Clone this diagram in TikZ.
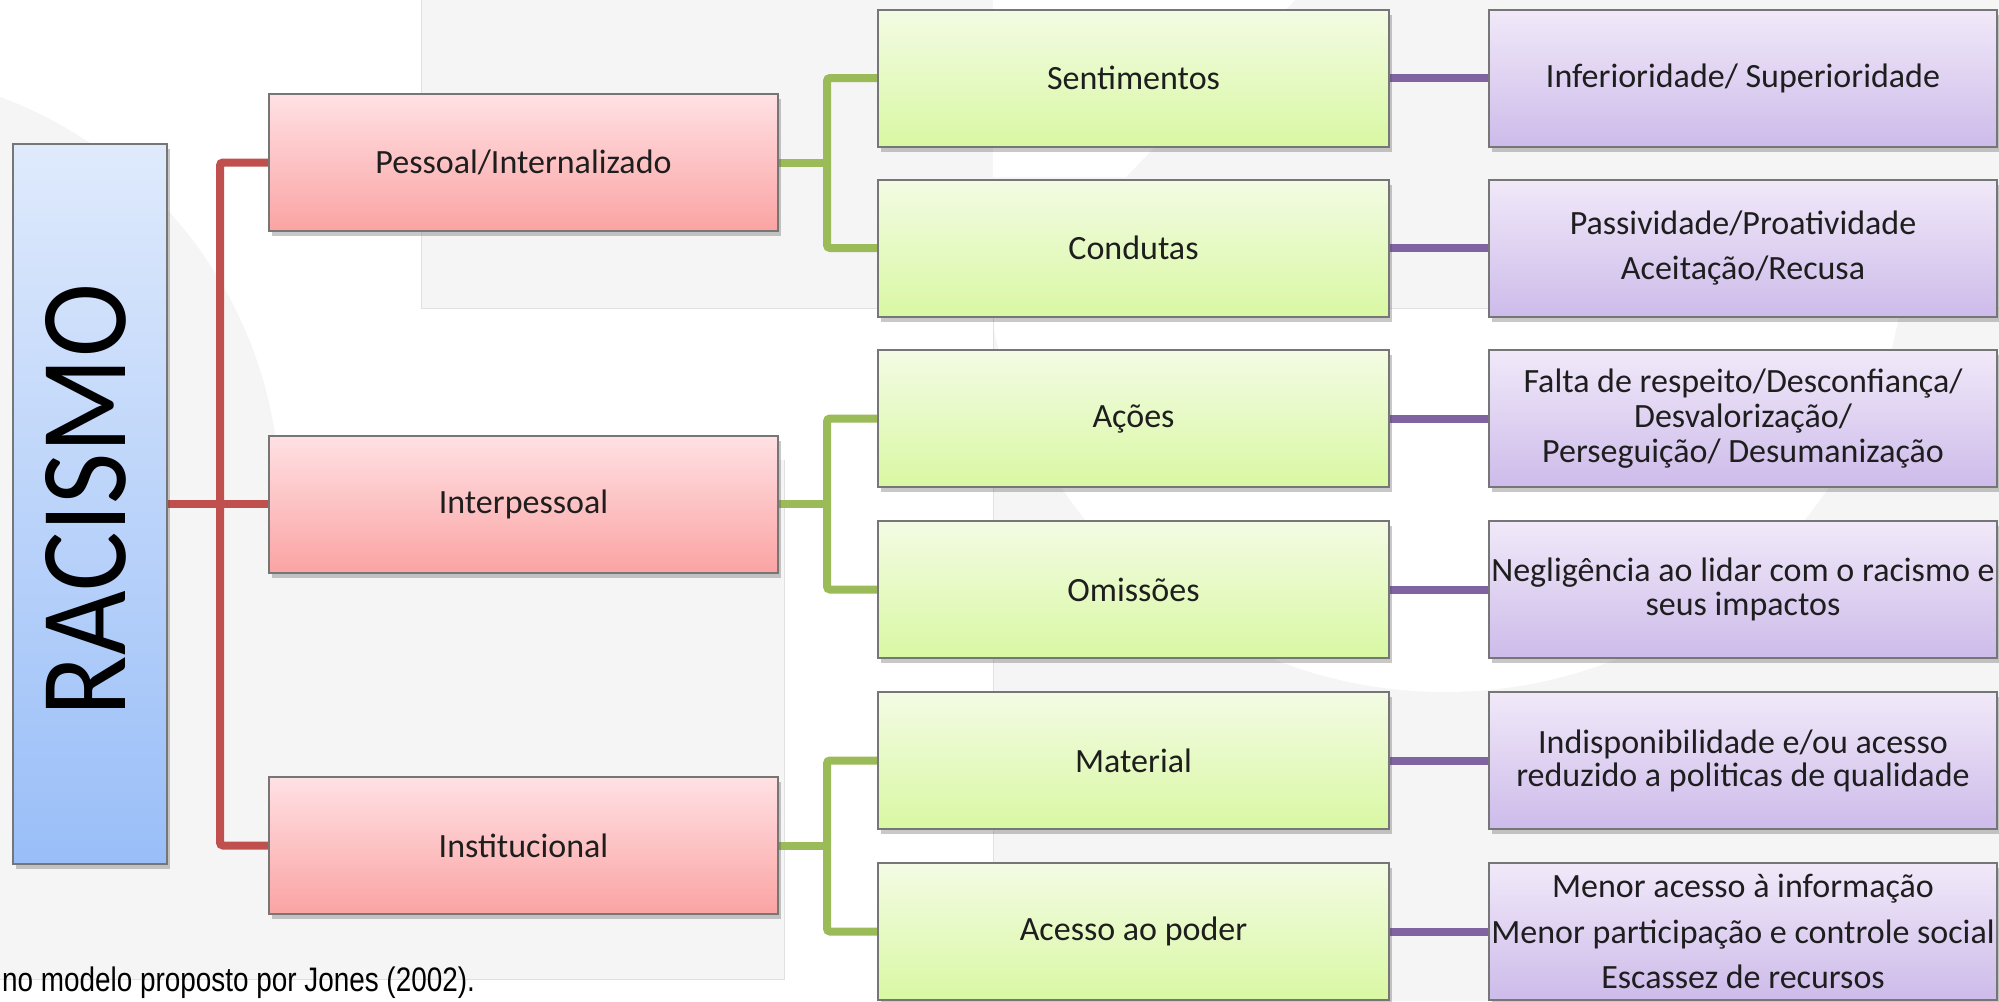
\documentclass[tikz,border=0pt]{standalone}
\usepackage{fontspec}
\setmainfont{Carlito}
\newfontfamily\capfont{Liberation Sans}
\usetikzlibrary{shadows}
\pgfdeclarelayer{bgzero}
\pgfdeclarelayer{bgone}
\pgfsetlayers{bgzero,bgone,main}
\definecolor{bgg}{RGB}{245,245,245}
\definecolor{bgline}{RGB}{225,225,225}
\definecolor{boxborder}{RGB}{118,118,118}
\definecolor{txt}{RGB}{30,30,30}
\definecolor{pinkT}{RGB}{255,225,228}
\definecolor{pinkB}{RGB}{251,163,163}
\definecolor{greenT}{RGB}{243,251,228}
\definecolor{greenB}{RGB}{217,248,163}
\definecolor{purpT}{RGB}{241,233,249}
\definecolor{purpB}{RGB}{205,187,234}
\definecolor{blueT}{RGB}{223,234,252}
\definecolor{blueB}{RGB}{153,190,248}
\definecolor{redl}{RGB}{192,80,77}
\definecolor{greenl}{RGB}{155,187,89}
\definecolor{purpl}{RGB}{128,100,162}
\begin{document}
\begin{tikzpicture}[x=1pt,y=1pt,
  box/.style={draw=boxborder, line width=2pt, minimum height=137pt, inner sep=0pt,
    align=center, text=txt, font=\fontsize{34}{41}\selectfont,
    drop shadow={shadow xshift=3pt, shadow yshift=-5pt, opacity=0.3, fill=black!70}},
  pinkbox/.style={box, minimum width=509pt, top color=pinkT, bottom color=pinkB},
  greenbox/.style={box, minimum width=511pt, top color=greenT, bottom color=greenB},
  purpbox/.style={box, minimum width=508pt, top color=purpT, bottom color=purpB},
  conn/.style={line width=8pt, rounded corners=3pt},
  redconn/.style={conn, draw=redl},
  greenconn/.style={conn, draw=greenl},
  purpconn/.style={conn, draw=purpl}
]
\useasboundingbox (0,0) rectangle (1999,-1001);
\begin{pgfonlayer}{bgzero}
  \begin{scope}
    \clip (0,0) rectangle (1999,-1001);
    \fill[white] (0,0) rectangle (1999,-1001);
    \fill[bgg] (-150,-500) circle (430);
    \fill[bgg] (0,-460) rectangle (784,-979);
    \fill[bgg] (421,0) rectangle (1999,-308);
    \fill[white] (993,0) -- (1295,0) -- (1126,-177) -- (993,-177) -- cycle;
    \fill[bgg] (993,-308) rectangle (1999,-1001);
    \begin{scope}
      \clip (993,-308) rectangle (1999,-1001);
      \fill[white] (1445,-230) circle (462);
    \end{scope}
    \draw[bgline, line width=0.8pt] (421,0) -- (421,-308) -- (1999,-308);
    \draw[bgline, line width=0.8pt] (993,-308) -- (993,-1001);
    \draw[bgline, line width=0.8pt] (784,-460) -- (784,-979) -- (0,-979);
  \end{scope}
\end{pgfonlayer}

% level 0
\node[draw=boxborder, line width=2pt, minimum width=154pt, minimum height=720pt, inner sep=0pt,
  top color=blueT, bottom color=blueB,
  drop shadow={shadow xshift=3pt, shadow yshift=-5pt, opacity=0.3, fill=black!70}]
  (rac) at (90,-504) {};
\node[rotate=90, inner sep=0pt] (ractxt) at (86,-500) {\resizebox{432pt}{80pt}{RACISMO}};

% level 1
\node[pinkbox] (p1) at (523.5,-162.5) {Pessoal/Internalizado};
\node[pinkbox] (p2) at (523.5,-504) {Interpessoal};
\node[pinkbox] (p3) at (523.5,-845.5) {Institucional};

% level 2
\node[greenbox] (g1) at (1133.5,-78) {Sentimentos};
\node[greenbox] (g2) at (1133.5,-248) {Condutas};
\node[greenbox] (g3) at (1133.5,-418.5) {Ações};
\node[greenbox] (g4) at (1133.5,-589.5) {Omissões};
\node[greenbox] (g5) at (1133.5,-760.5) {Material};
\node[greenbox] (g6) at (1133.5,-931.5) {Acesso ao poder};

% level 3
\node[purpbox] (q1) at (1743,-78) {Inferioridade/ Superioridade};
\node[purpbox, font=\fontsize{34}{45}\selectfont] (q2) at (1743,-248) {Passividade/Proatividade\\Aceitação/Recusa};
\node[purpbox, font=\fontsize{34}{35}\selectfont] (q3) at (1743,-418.5) {Falta de respeito/Desconfiança/\\Desvalorização/\\Perseguição/ Desumanização};
\node[purpbox, font=\fontsize{34}{34}\selectfont] (q4) at (1743,-589.5) {Negligência ao lidar com o racismo e\\seus impactos};
\node[purpbox, font=\fontsize{34}{33}\selectfont] (q5) at (1743,-760.5) {Indisponibilidade e/ou acesso\\reduzido a politicas de qualidade};
\node[purpbox, font=\fontsize{34}{45.5}\selectfont] (q6) at (1743,-931.5) {Menor acesso à informação\\Menor participação e controle social\\Escassez de recursos};

% caption
\node[anchor=base west, inner sep=0pt, text=black] (cap) at (2,-991)
  {\capfont\fontsize{34}{40}\selectfont\scalebox{0.82}[1]{no modelo proposto por Jones (2002).}};

% connectors
\coordinate (rj) at (220,-504);
\coordinate (gj1) at (827,-162.5);
\coordinate (gj2) at (827,-504);
\coordinate (gj3) at (827,-845.5);
\begin{pgfonlayer}{bgone}
  \draw[redconn] (rac.east) -- (p2.west);
  \draw[redconn] (p1.west) -| (rj) |- (p3.west);
  \draw[greenconn] (p1.east) -- (gj1);
  \draw[greenconn] (g1.west) -| (gj1) |- (g2.west);
  \draw[greenconn] (p2.east) -- (gj2);
  \draw[greenconn] (g3.west) -| (gj2) |- (g4.west);
  \draw[greenconn] (p3.east) -- (gj3);
  \draw[greenconn] (g5.west) -| (gj3) |- (g6.west);
  \draw[purpconn] (g1.east) -- (q1.west);
  \draw[purpconn] (g2.east) -- (q2.west);
  \draw[purpconn] (g3.east) -- (q3.west);
  \draw[purpconn] (g4.east) -- (q4.west);
  \draw[purpconn] (g5.east) -- (q5.west);
  \draw[purpconn] (g6.east) -- (q6.west);
\end{pgfonlayer}
\end{tikzpicture}
\end{document}
